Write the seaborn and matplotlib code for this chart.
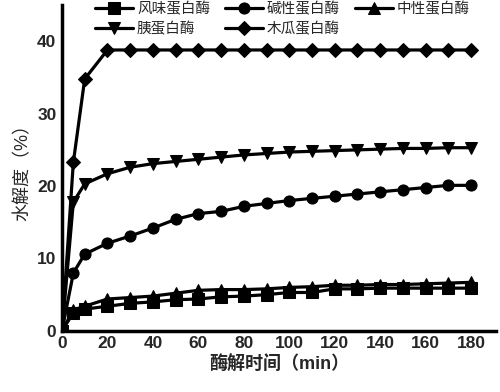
import pandas as pd
import matplotlib
matplotlib.use("Agg")
import matplotlib.pyplot as plt
import seaborn as sns

# time points (min)
time = [0, 5, 10, 20, 30, 40, 50, 60, 70, 80, 90, 100, 110, 120, 130, 140, 150, 160, 170, 180]

# degree of hydrolysis (%) per enzyme
flavourzyme = [0, 2.5, 3.0, 3.4, 3.8, 4.0, 4.3, 4.4, 4.7, 4.8, 5.0, 5.3, 5.3, 5.8, 5.8, 5.9, 5.9, 5.9, 5.9, 5.9]
alcalase = [0, 8.0, 10.6, 12.1, 13.1, 14.2, 15.4, 16.2, 16.5, 17.2, 17.6, 18.0, 18.3, 18.6, 18.9, 19.2, 19.5, 19.8, 20.1, 20.1]
neutrase = [0, 2.9, 3.4, 4.4, 4.6, 4.8, 5.2, 5.6, 5.7, 5.7, 5.8, 6.0, 6.1, 6.3, 6.3, 6.4, 6.4, 6.5, 6.6, 6.7]
trypsin = [0, 17.8, 20.3, 21.7, 22.6, 23.1, 23.4, 23.7, 24.0, 24.3, 24.5, 24.7, 24.8, 24.9, 25.0, 25.1, 25.2, 25.2, 25.3, 25.3]
papain = [0, 23.3, 34.8, 38.8, 38.8, 38.8, 38.8, 38.8, 38.8, 38.8, 38.8, 38.8, 38.8, 38.8, 38.8, 38.8, 38.8, 38.8, 38.8, 38.8]

names = ['风味蛋白酶', '碱性蛋白酶', '中性蛋白酶', '胰蛋白酶', '木瓜蛋白酶']
series = [flavourzyme, alcalase, neutrase, trypsin, papain]
markers = ['s', 'o', '^', 'v', 'D']

sns.set_style("white")
plt.rcParams['font.family'] = ['Liberation Sans', 'Noto Sans CJK SC', 'DejaVu Sans']

fig = plt.figure(figsize=(5, 3.92), dpi=100)
ax = fig.add_axes([0.124, 0.156, 0.868, 0.831])

for name, vals, m in zip(names, series, markers):
    df = pd.DataFrame({'time': time, 'dh': vals})
    sns.lineplot(data=df, x='time', y='dh', ax=ax, color='black', linewidth=2.3,
                 marker=m, markersize=8 if m != 'D' else 7.5, markeredgecolor='black',
                 label=name)

ax.set_xlim(0, 191)
ax.set_ylim(0, 45)
ax.set_xticks(range(0, 181, 20))
ax.set_yticks([0, 10, 20, 30, 40])
ax.tick_params(direction='in', length=5, width=2.2, labelsize=12.5, pad=4)
for lab in ax.get_xticklabels() + ax.get_yticklabels():
    lab.set_fontweight('bold')
for side in ['top', 'right']:
    ax.spines[side].set_visible(False)
for side in ['left', 'bottom']:
    ax.spines[side].set_linewidth(2.5)
    ax.spines[side].set_color('black')

ax.set_xlabel('酶解时间（min）', fontsize=13, fontweight='bold', labelpad=3)
ax.set_ylabel('水解度（%）', fontsize=13, labelpad=4)

# row-major order for a 3-column legend
handles, labels = ax.get_legend_handles_labels()
order = [0, 3, 1, 4, 2]
ax.legend([handles[i] for i in order], [labels[i] for i in order],
          loc='upper left', bbox_to_anchor=(0.045, 1.05), ncol=3, frameon=False,
          handlelength=2.6, columnspacing=1.0, labelspacing=0.35,
          handletextpad=0.3, prop={'family': ['Noto Sans CJK SC'], 'size': 10.5})

fig.savefig('out.png', dpi=100)
